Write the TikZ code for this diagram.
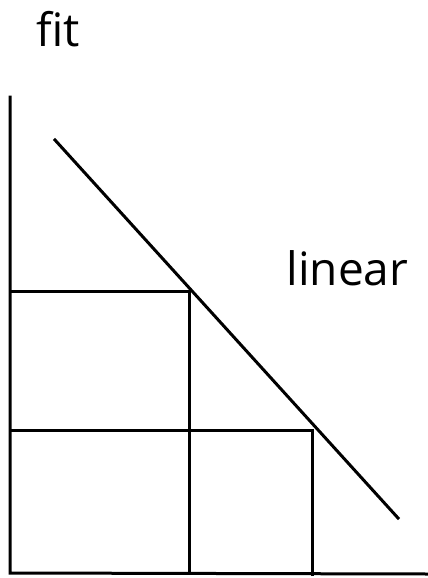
\documentclass[tikz,border=0pt]{standalone}
\usepackage{fontspec}
\setmainfont{Open Sans}
\usepackage{tikz}

\begin{document}
\begin{tikzpicture}[x=1pt, y=-1pt, line width=3pt, line cap=rect,
  lbl/.style={font=\fontsize{46}{46}\selectfont, inner sep=0pt}]
\useasboundingbox (0,0) rectangle (428,578);
% axes
\coordinate (O) at (10,573);
\coordinate (ytop) at (10,97);
\coordinate (xend) at (428,574);
\draw (ytop) -- (O) -- (xend);
% linear fit line
\coordinate (L1) at (55,140);
\coordinate (L2) at (398,518);
\draw (L1) -- (L2);
% two read-offs from the line
\coordinate (A) at (189,291);
\coordinate (B) at (312,430);
\draw (10,291) -- (A) -- (189,571);
\draw (10,430) -- (B) -- (312,574);
\node[lbl, anchor=base west] (fit) at (35,47) {fit};
\node[lbl, anchor=base west] (linear) at (285,285) {linear};
\end{tikzpicture}
\end{document}
